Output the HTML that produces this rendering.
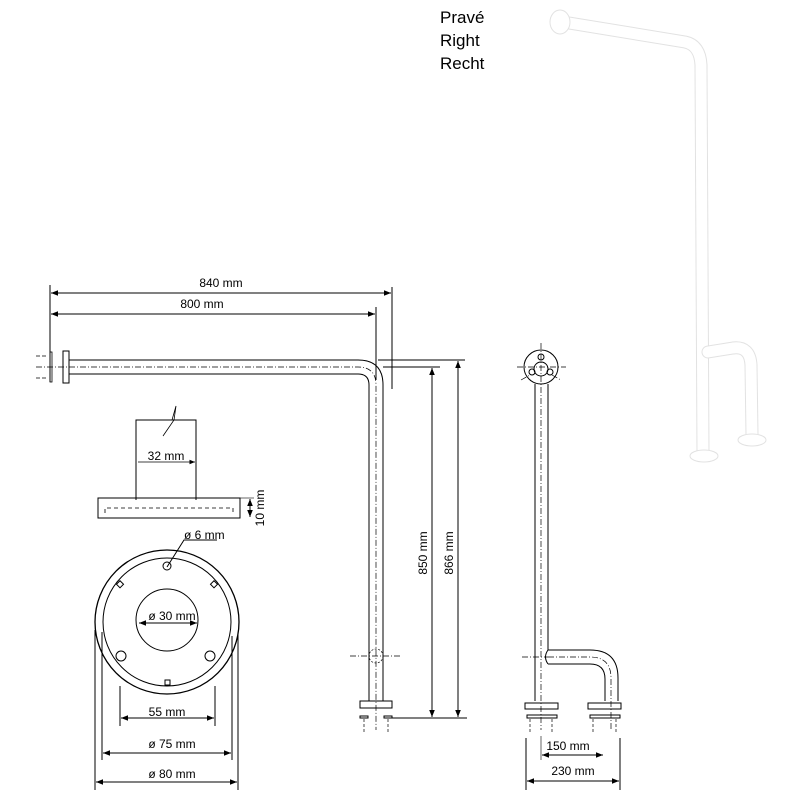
<!DOCTYPE html>
<html><head><meta charset="utf-8"><style>
html,body{margin:0;padding:0;background:#fff;width:800px;height:800px;overflow:hidden}
svg{display:block}
text{font-family:"Liberation Sans",sans-serif;font-size:12px;fill:#000}
</style></head><body>
<svg width="800" height="800" viewBox="0 0 800 800" xmlns="http://www.w3.org/2000/svg">
<defs>
<marker id="a" viewBox="0 0 10 10" refX="10" refY="5" markerWidth="7" markerHeight="7" orient="auto-start-reverse"><path d="M0,1 L10,5 L0,9 z" fill="#000"/></marker>
</defs>
<g stroke="#000" fill="none" stroke-width="1">
<line x1="50" y1="285" x2="50" y2="382"/>
<line x1="392" y1="287" x2="392" y2="389"/>
<line x1="376" y1="307" x2="376" y2="380"/>
<line x1="51" y1="293" x2="391" y2="293" marker-start="url(#a)" marker-end="url(#a)"/>
<line x1="51" y1="314" x2="375" y2="314" marker-start="url(#a)" marker-end="url(#a)"/>
<rect x="50" y="352" width="2" height="30" stroke-width="0.8"/>
<rect x="63" y="351" width="6" height="32"/>
<path d="M69,360 H358 Q383,360 383,385 V701"/>
<path d="M69,374 H358 Q369,374 369,385 V701"/>
<path d="M36,367 H358 Q376,367 376,385 V730" stroke-dasharray="6,2,1,2" stroke-width="0.7"/>
<path d="M36,356 H48 M36,378 H48" stroke-dasharray="4,2" stroke-width="0.7"/>
<circle cx="376" cy="656" r="7" stroke-dasharray="2,1.5" stroke-width="0.7"/>
<line x1="350" y1="656" x2="402" y2="656" stroke-dasharray="6,2,1,2" stroke-width="0.7"/>
<rect x="360" y="701" width="32" height="7"/>
<rect x="360" y="716" width="8" height="2"/><rect x="384" y="716" width="8" height="2"/>
<path d="M364,719 V732 M388,719 V732" stroke-dasharray="3,2" stroke-width="0.7"/>
<line x1="378" y1="360" x2="465" y2="360"/>
<line x1="383" y1="367" x2="440" y2="367"/>
<line x1="392" y1="718" x2="467" y2="718"/>
<line x1="432" y1="368" x2="432" y2="717" marker-start="url(#a)" marker-end="url(#a)"/>
<line x1="458" y1="361" x2="458" y2="717" marker-start="url(#a)" marker-end="url(#a)"/>
<path d="M136,500 V420 H196 V500"/>
<path d="M172,420 L176,406 L174,420 L163,436" stroke-width="0.8"/>
<line x1="138" y1="462" x2="195" y2="462" stroke-width="0.8" marker-end="url(#a)"/>
<rect x="98" y="498" width="142" height="20"/>
<path d="M105,513 V508 H233 V513" stroke-dasharray="4,3" stroke-width="0.8"/>
<line x1="250" y1="499" x2="250" y2="517" marker-start="url(#a)" marker-end="url(#a)"/>
<line x1="240" y1="498" x2="254" y2="498" stroke-width="0.6"/>
<circle cx="167" cy="622" r="72" stroke-width="1.3"/>
<circle cx="167" cy="622" r="64"/>
<circle cx="167" cy="620" r="31"/>
<circle cx="167" cy="566" r="4"/>
<circle cx="121" cy="656" r="5"/>
<circle cx="210" cy="656" r="5"/>
<rect x="117" y="582" width="5" height="5" transform="rotate(45 120 585)"/>
<rect x="211" y="582" width="5" height="5" transform="rotate(45 214 585)"/>
<rect x="165" y="680" width="5" height="5"/>
<path d="M167,567 L184,540 H217"/>
<line x1="139" y1="623" x2="197" y2="623" marker-start="url(#a)" marker-end="url(#a)"/>
<line x1="120" y1="686" x2="120" y2="726"/><line x1="215" y1="686" x2="215" y2="726"/>
<line x1="121" y1="718" x2="214" y2="718" marker-start="url(#a)" marker-end="url(#a)"/>
<line x1="102" y1="632" x2="102" y2="760"/><line x1="232" y1="636" x2="232" y2="760"/>
<line x1="103" y1="753" x2="231" y2="753" marker-start="url(#a)" marker-end="url(#a)"/>
<line x1="95" y1="630" x2="95" y2="790"/><line x1="238" y1="632" x2="238" y2="790"/>
<line x1="96" y1="782" x2="237" y2="782" marker-start="url(#a)" marker-end="url(#a)"/>
<circle cx="541" cy="367" r="17"/>
<circle cx="541" cy="369" r="7"/>
<circle cx="541" cy="357" r="3"/>
<circle cx="532" cy="372" r="3"/><circle cx="550" cy="372" r="3"/>
<path d="M517,367 H566 M541,343 V730 M521,380 L530,375 M552,375 L561,380" stroke-dasharray="6,2,1,2" stroke-width="0.7"/>
<path d="M535,384 V701 M548,384 V650"/>
<path d="M548,650 H590 Q618,650 618,678 V701"/>
<path d="M548,664 H590 Q605,664 605,679 V701"/>
<path d="M548,650 Q543,657 548,664"/>
<path d="M548,657 H590 Q611,657 611,678 V730" stroke-dasharray="6,2,1,2" stroke-width="0.7"/>
<line x1="522" y1="657" x2="548" y2="657" stroke-dasharray="6,2,1,2" stroke-width="0.7"/>
<rect x="525" y="703" width="33" height="6"/>
<rect x="527" y="715" width="30" height="3"/>
<rect x="588" y="703" width="33" height="6"/>
<rect x="590" y="715" width="30" height="3"/>
<path d="M530,719 V732 M552,719 V732 M593,719 V732 M616,719 V732" stroke-dasharray="3,2" stroke-width="0.7"/>
<line x1="526" y1="738" x2="526" y2="790"/><line x1="620" y1="738" x2="620" y2="790"/>
<line x1="541" y1="736" x2="541" y2="760" stroke-width="0.6"/>
<line x1="542" y1="755" x2="603" y2="755" marker-start="url(#a)" marker-end="url(#a)"/>
<line x1="527" y1="781" x2="619" y2="781" marker-start="url(#a)" marker-end="url(#a)"/>
</g>
<g fill="none" stroke-linecap="round" stroke-linejoin="round">
<path d="M563,22 L685,42 Q700,45 701,65 L703,455" stroke="#e2e2e2" stroke-width="13"/>
<path d="M563,22 L685,42 Q700,45 701,65 L703,455" stroke="#fff" stroke-width="11"/>
<path d="M708,352 L733,348 Q750,346 751,365 L752,435" stroke="#e2e2e2" stroke-width="13"/>
<path d="M708,352 L733,348 Q750,346 751,365 L752,435" stroke="#fff" stroke-width="11"/>
</g>
<ellipse cx="560" cy="22" rx="10" ry="12" fill="#fff" stroke="#e2e2e2"/>
<ellipse cx="704" cy="456" rx="14" ry="6" fill="#fff" stroke="#e2e2e2"/>
<ellipse cx="752" cy="440" rx="14" ry="6" fill="#fff" stroke="#e2e2e2"/>
<text x="221" y="287" text-anchor="middle">840 mm</text>
<text x="202" y="308" text-anchor="middle">800 mm</text>
<text x="166" y="460" text-anchor="middle">32 mm</text>
<text transform="translate(264,508) rotate(-90)" text-anchor="middle">10 mm</text>
<text transform="translate(427,553) rotate(-90)" text-anchor="middle">850 mm</text>
<text transform="translate(453,553) rotate(-90)" text-anchor="middle">866 mm</text>
<text x="184" y="539">ø 6 mm</text>
<text x="172" y="620" text-anchor="middle">ø 30 mm</text>
<text x="167" y="716" text-anchor="middle">55 mm</text>
<text x="172" y="748" text-anchor="middle">ø 75 mm</text>
<text x="172" y="778" text-anchor="middle">ø 80 mm</text>
<text x="568" y="750" text-anchor="middle">150 mm</text>
<text x="573" y="775" text-anchor="middle">230 mm</text>
<text x="440" y="23" style="font-size:17px">Pravé</text>
<text x="440" y="46" style="font-size:17px">Right</text>
<text x="440" y="69" style="font-size:17px">Recht</text>
</svg>
</body></html>
